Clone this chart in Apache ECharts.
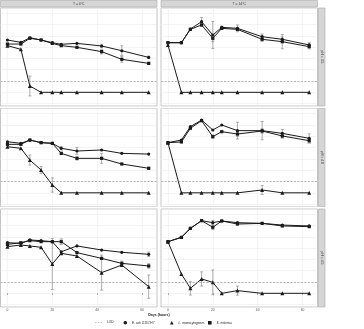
<!DOCTYPE html>
<html>
<head>
<meta charset="utf-8">
<script src="https://cdn.jsdelivr.net/npm/echarts@6/dist/echarts.min.js"></script>
<style>
  html, body { margin: 0; padding: 0; background: #ffffff; }
  #chart { width: 364px; height: 329px; }
</style>
</head>
<body>
<div id="chart"></div>
<script>
// Sampling days and facet labels
const days = [0, 6, 10, 15, 20, 24, 31, 42, 51, 63];
const xTicks = [0, 20, 40, 60];
const LOD = 1;
const tempLabels = ['T = 4°C', 'T = 14°C'];
const phLabels = ['pH = 3.5', 'pH = 4.0', 'pH = 4.5'];
const speciesNames = ['E. coli O157:H7', 'L. monocytogenes', 'S. enterica'];

// Mean counts (log CFU) per pH / temperature
const ecoli_pH35_4C    = [4.63, 4.42, 4.83, 4.63, 4.39, 4.25, 4.33, 4.10, 3.68, 3.09];
const listeria_pH35_4C = [4.13, 3.80, 0.56, 0, 0, 0, 0, 0, 0, 0];
const salm_pH35_4C     = [4.27, 4.27, 4.78, 4.63, 4.33, 4.13, 3.98, 3.60, 2.92, 2.56];

const ecoli_pH35_14C    = [4.39, 4.39, 5.60, 6.25, 5.07, 5.75, 5.66, 4.92, 4.69, 4.19];
const listeria_pH35_14C = [4.19, 0, 0, 0, 0, 0, 0, 0, 0, 0];
const salm_pH35_14C     = [4.39, 4.39, 5.57, 5.96, 4.78, 5.66, 5.57, 4.69, 4.48, 4.04];

const ecoli_pH40_4C    = [4.52, 4.38, 4.67, 4.44, 4.38, 3.94, 3.70, 3.79, 3.49, 3.43];
const listeria_pH40_4C = [4.08, 3.94, 2.90, 2.02, 0.69, 0, 0, 0, 0, 0];
const salm_pH40_4C     = [4.29, 4.29, 4.67, 4.44, 4.38, 3.49, 3.05, 3.05, 2.55, 2.17];

const ecoli_pH40_14C    = [4.44, 4.67, 5.85, 6.44, 5.56, 6.00, 5.50, 5.50, 5.26, 4.82];
const listeria_pH40_14C = [4.44, 0, 0, 0, 0, 0, 0, 0.25, 0, 0];
const salm_pH40_14C     = [4.44, 4.50, 5.71, 6.38, 4.97, 5.41, 5.20, 5.47, 5.03, 4.61];

const ecoli_pH45_4C    = [4.48, 4.42, 4.72, 4.66, 4.57, 3.68, 4.19, 3.83, 3.63, 3.45];
const listeria_pH45_4C = [4.13, 4.27, 4.19, 4.07, 2.59, 3.54, 3.30, 1.83, 2.50, 0.59];
const salm_pH45_4C     = [4.33, 4.48, 4.66, 4.57, 4.57, 4.57, 3.60, 3.09, 2.65, 2.42];

const ecoli_pH45_14C    = [4.57, 4.95, 5.75, 6.43, 6.25, 6.40, 6.25, 6.19, 6.04, 5.96];
const listeria_pH45_14C = [4.57, 1.71, 0.44, 1.27, 0.97, 0, 0.24, 0, 0, 0];
const salm_pH45_14C     = [4.57, 4.95, 5.75, 6.43, 5.84, 6.40, 6.13, 6.19, 5.96, 5.90];

// Standard deviations (0 = no bar drawn)
const ecoliSd_pH35_4C    = [0, 0, 0, 0, 0, 0, 0, 0.15, 0.44, 0.10];
const listeriaSd_pH35_4C = [0, 0, 0.88, 0, 0, 0, 0, 0, 0, 0];
const salmSd_pH35_4C     = [0, 0, 0, 0, 0, 0, 0, 0.20, 0.27, 0.10];

const ecoliSd_pH35_14C    = [0, 0, 0, 0.37, 1.20, 0.10, 0.30, 0.25, 0.20, 0.20];
const listeriaSd_pH35_14C = [0, 0, 0, 0, 0, 0, 0, 0, 0, 0];
const salmSd_pH35_14C     = [0, 0, 0, 0.10, 0.30, 0.10, 0.10, 0.20, 0.63, 0.20];

const ecoliSd_pH40_4C    = [0, 0, 0, 0, 0, 0.15, 0.30, 0, 0, 0];
const listeriaSd_pH40_4C = [0, 0, 0.44, 0.30, 0.63, 0, 0, 0, 0, 0];
const salmSd_pH40_4C     = [0, 0, 0, 0, 0, 0.10, 0.15, 0.44, 0, 0.10];

const ecoliSd_pH40_14C    = [0, 0, 0, 0, 0, 0, 0.74, 0.81, 0.35, 0.40];
const listeriaSd_pH40_14C = [0, 0, 0, 0, 0, 0, 0, 0.40, 0, 0];
const salmSd_pH40_14C     = [0, 0, 0, 0, 0.15, 0, 0.20, 0.20, 0.20, 0.20];

const ecoliSd_pH45_4C    = [0, 0, 0, 0, 0, 0, 0, 0, 0, 0.20];
const listeriaSd_pH45_4C = [0, 0, 0, 0, 2.26, 0, 0, 1.55, 0, 1.03];
const salmSd_pH45_4C     = [0, 0, 0, 0, 0, 0.25, 0, 0, 0.20, 0.20];

const ecoliSd_pH45_14C    = [0, 0, 0, 0, 0.20, 0, 0, 0, 0, 0];
const listeriaSd_pH45_14C = [0, 0, 0.59, 0.63, 1.10, 0, 0.40, 0, 0, 0];
const salmSd_pH45_14C     = [0, 0, 0, 0, 0.20, 0, 0, 0, 0, 0];

// Facet panels (row = pH, col = temperature)
const panels = [
  { row: 0, col: 0, vals: [ecoli_pH35_4C, listeria_pH35_4C, salm_pH35_4C], sds: [ecoliSd_pH35_4C, listeriaSd_pH35_4C, salmSd_pH35_4C] },
  { row: 0, col: 1, vals: [ecoli_pH35_14C, listeria_pH35_14C, salm_pH35_14C], sds: [ecoliSd_pH35_14C, listeriaSd_pH35_14C, salmSd_pH35_14C] },
  { row: 1, col: 0, vals: [ecoli_pH40_4C, listeria_pH40_4C, salm_pH40_4C], sds: [ecoliSd_pH40_4C, listeriaSd_pH40_4C, salmSd_pH40_4C] },
  { row: 1, col: 1, vals: [ecoli_pH40_14C, listeria_pH40_14C, salm_pH40_14C], sds: [ecoliSd_pH40_14C, listeriaSd_pH40_14C, salmSd_pH40_14C] },
  { row: 2, col: 0, vals: [ecoli_pH45_4C, listeria_pH45_4C, salm_pH45_4C], sds: [ecoliSd_pH45_4C, listeriaSd_pH45_4C, salmSd_pH45_4C] },
  { row: 2, col: 1, vals: [ecoli_pH45_14C, listeria_pH45_14C, salm_pH45_14C], sds: [ecoliSd_pH45_14C, listeriaSd_pH45_14C, salmSd_pH45_14C] }
];

// Layout
const colLeft = [0.5, 161];
const panelW = 156.5;
const rowTop = [8, 108.5, 209];
const panelH = 98;
const stripH = 6.5;
const xRange = [-3.1, 66.7];
const yRange = [-1.21, 7.46];
const ink = '#1a1a1a';
const shapes = ['circle', 'triangle', 'rect'];
const fontFamily = 'Liberation Sans, Arial, sans-serif';

function errorBarItem(params, api) {
  const x = api.value(0), y = api.value(1), e = api.value(2);
  const hi = api.coord([x, y + e]);
  const lo = api.coord([x, y - e]);
  const w = 1.5;
  const style = { stroke: '#8c8c8c', lineWidth: 0.7 };
  return {
    type: 'group',
    children: [
      { type: 'line', shape: { x1: hi[0], y1: hi[1], x2: lo[0], y2: lo[1] }, style: style },
      { type: 'line', shape: { x1: hi[0] - w, y1: hi[1], x2: hi[0] + w, y2: hi[1] }, style: style },
      { type: 'line', shape: { x1: lo[0] - w, y1: lo[1], x2: lo[0] + w, y2: lo[1] }, style: style }
    ]
  };
}

const grid = [], xAxis = [], yAxis = [], series = [];
panels.forEach((p, i) => {
  const bottomRow = p.row === 2;
  grid.push({
    left: colLeft[p.col], top: rowTop[p.row], width: panelW, height: panelH,
    show: true, borderColor: '#b5b5b5', borderWidth: 0.8, backgroundColor: '#ffffff'
  });
  xAxis.push({
    type: 'value', gridIndex: i, min: xRange[0], max: xRange[1],
    axisLine: { show: false },
    axisTick: { show: bottomRow, length: 1.5, lineStyle: { color: '#555', width: 0.6 }, customValues: xTicks },
    axisLabel: { show: bottomRow, customValues: xTicks, fontSize: 3.3, color: '#555', margin: 2, fontFamily: fontFamily },
    splitLine: { show: true, lineStyle: { color: '#ececec', width: 0.6 } }
  });
  yAxis.push({
    type: 'value', gridIndex: i, min: yRange[0], max: yRange[1], splitNumber: 9,
    axisLine: { show: false }, axisTick: { show: false }, axisLabel: { show: false },
    splitLine: { show: true, lineStyle: { color: '#ececec', width: 0.6 } }
  });

  series.push({
    name: 'LOD', type: 'line', xAxisIndex: i, yAxisIndex: i, data: [],
    symbol: 'none', itemStyle: { color: '#8f8f8f' },
    lineStyle: { color: '#8f8f8f', type: 'dashed', width: 0.7 },
    markLine: {
      silent: true, symbol: 'none', label: { show: false },
      lineStyle: { color: '#9a9a9a', type: [2, 1.5], width: 0.7 },
      data: [{ yAxis: LOD }]
    },
    z: 1
  });

  p.vals.forEach((vals, k) => {
    series.push({
      name: speciesNames[k], type: 'line', xAxisIndex: i, yAxisIndex: i,
      data: days.map((d, j) => [d, vals[j]]),
      symbol: shapes[k], symbolSize: k === 1 ? 4 : 3.2,
      itemStyle: { color: ink }, lineStyle: { color: ink, width: 1 },
      z: 4
    });
  });
  p.vals.forEach((vals, k) => {
    const bars = [];
    days.forEach((d, j) => { if (p.sds[k][j] > 0) bars.push([d, vals[j], p.sds[k][j]]); });
    series.push({
      name: speciesNames[k], type: 'custom', xAxisIndex: i, yAxisIndex: i,
      renderItem: errorBarItem, encode: { x: 0, y: 1 }, data: bars, z: 3
    });
  });
});

// Facet strips and x-axis title
const graphic = [];
tempLabels.forEach((t, c) => {
  graphic.push({
    type: 'rect', shape: { x: colLeft[c], y: 0.5, width: panelW, height: stripH },
    style: { fill: '#d6d6d6', stroke: '#a9a9a9', lineWidth: 0.6 }, silent: true
  });
  graphic.push({
    type: 'text', x: colLeft[c] + panelW / 2, y: 0.5 + stripH / 2,
    style: { text: t, fill: '#333', font: '3.4px ' + fontFamily, align: 'center', verticalAlign: 'middle' }
  });
});
phLabels.forEach((t, r) => {
  const sx = colLeft[1] + panelW + 1;
  graphic.push({
    type: 'rect', shape: { x: sx, y: rowTop[r], width: 6.5, height: panelH },
    style: { fill: '#d6d6d6', stroke: '#a9a9a9', lineWidth: 0.6 }, silent: true
  });
  graphic.push({
    type: 'text', x: sx + 3.25, y: rowTop[r] + panelH / 2, rotation: -Math.PI / 2,
    style: { text: t, fill: '#333', font: '3.4px ' + fontFamily, align: 'center', verticalAlign: 'middle' }
  });
});
graphic.push({
  type: 'text', x: (colLeft[0] + colLeft[1] + panelW) / 2, y: 315,
  style: { text: 'Days (hours)', fill: '#222', font: 'bold 3.5px ' + fontFamily, align: 'center', verticalAlign: 'middle' }
});

// Legend entries laid out in one row under the panels
const legendText = { fontSize: 3.2, color: '#222', fontFamily: fontFamily };
const italicText = Object.assign({ fontStyle: 'italic' }, legendText);
const legend = [
  { data: [{ name: 'LOD', icon: 'path://M0,0H3V1H0Z M5,0H8V1H5Z M10,0H13V1H10Z' }],
    left: 95, top: 321, itemWidth: 7, itemHeight: 2, itemGap: 2, textStyle: legendText,
    itemStyle: { color: '#8f8f8f' }, padding: 0, selectedMode: false },
  { data: [{ name: speciesNames[0], icon: 'circle' }], left: 123.5, top: 321, itemWidth: 3.6, itemHeight: 3.6,
    textStyle: italicText, itemStyle: { color: ink }, padding: 0, selectedMode: false },
  { data: [{ name: speciesNames[1], icon: 'triangle' }], left: 170, top: 321, itemWidth: 3.6, itemHeight: 3.6,
    textStyle: italicText, itemStyle: { color: ink }, padding: 0, selectedMode: false },
  { data: [{ name: speciesNames[2], icon: 'rect' }], left: 208, top: 321, itemWidth: 3.6, itemHeight: 3.6,
    textStyle: italicText, itemStyle: { color: ink }, padding: 0, selectedMode: false }
];

const chart = echarts.init(document.getElementById('chart'), null, { renderer: 'canvas' });
chart.setOption({
  animation: false,
  backgroundColor: '#ffffff',
  textStyle: { fontFamily: fontFamily },
  grid: grid,
  xAxis: xAxis,
  yAxis: yAxis,
  legend: legend,
  graphic: graphic,
  series: series
});
</script>
</body>
</html>
